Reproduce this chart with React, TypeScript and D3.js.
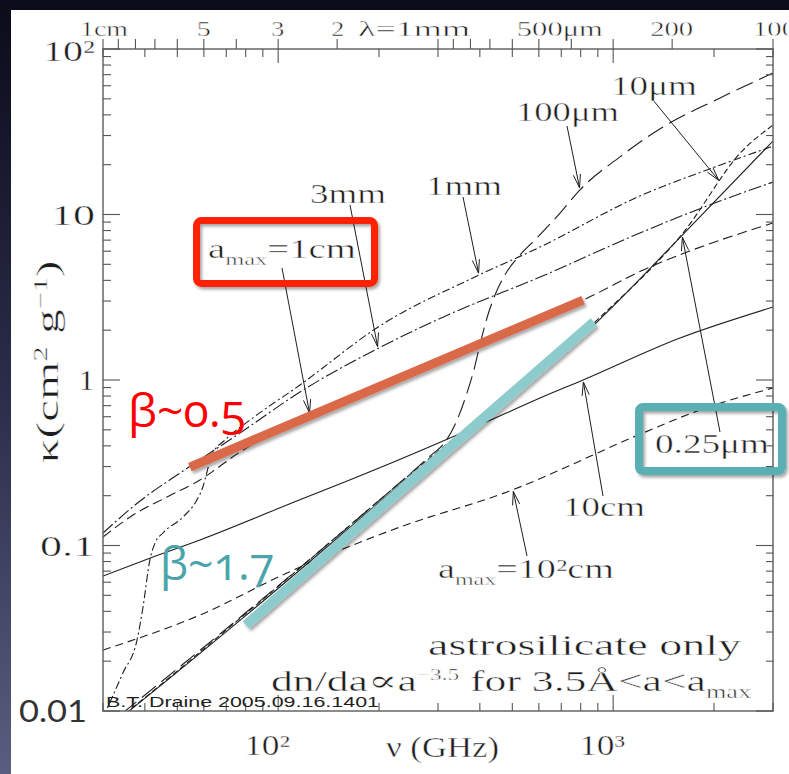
import React from "react";
import * as d3 from "d3";

// Axis domains: frequency in GHz, mass absorption coefficient in cm² g⁻¹
const nuRange: [number, number] = [30, 3000];
const kappaRange: [number, number] = [0.01, 100];

// κ(ν) for astrosilicate, dn/da ∝ a^-3.5, one series per a_max  ([ν GHz, κ cm² g⁻¹])
const amax025um: [number, number][] = [
  [30, 0.0075], [35.9, 0.01], [78.5, 0.0365], [265, 0.294], [895, 2.24], [1696, 8.4], [3000, 27.8],
];
const amax10um: [number, number][] = [
  [30, 0.0076], [35.9, 0.0101], [78.5, 0.0375], [265, 0.302], [895, 2.3], [1616, 7.73], [2441, 24.5], [3000, 34.7],
];
const amax100um: [number, number][] = [
  [30, 0.0078], [78.5, 0.038], [205.5, 0.196], [284, 0.347], [315, 0.422], [342, 0.573], [366, 0.834],
  [384, 1.149], [400, 1.627], [420, 2.37], [444, 3.26], [475, 4.31], [527, 5.69], [592, 7.21],
  [694, 10.2], [796, 14.1], [1048, 22.3], [1408, 33.8], [2084, 50.6], [3000, 71.6],
];
const amax1mm: [number, number][] = [
  [30, 0.00907], [31.5, 0.01134], [34.4, 0.01697], [37.9, 0.02685], [39.5, 0.0425], [41.4, 0.0817],
  [42.9, 0.1035], [45.3, 0.119], [52.0, 0.1487], [57.2, 0.1883], [59.6, 0.2257], [61.3, 0.278],
  [63.4, 0.352], [69.4, 0.434], [82.4, 0.573], [116.2, 0.933], [201, 2.12], [392, 4.25],
  [605, 6.36], [1202, 12.94], [1905, 18.6], [3000, 25.9],
];
const amax3mm: [number, number][] = [
  [30, 0.119], [38.7, 0.1857], [52.0, 0.282], [76.9, 0.478], [116.2, 0.846], [197, 1.539],
  [326, 2.505], [605, 4.19], [1202, 7.73], [2084, 12.07], [3000, 15.7],
];
const amax1cm: [number, number][] = [
  [30, 0.1125], [36.9, 0.1528], [46.6, 0.1964], [58.4, 0.2487], [76.9, 0.367], [124.4, 0.614],
  [231, 1.057], [459, 1.896], [813, 3.04], [1288, 4.82], [1661, 5.93], [3000, 8.88],
];
const amax10cm: [number, number][] = [
  [30, 0.0654], [42.3, 0.0852], [58.4, 0.108], [106.2, 0.1757], [184, 0.274], [400, 0.535],
  [605, 0.778], [813, 1.0], [1583, 1.794], [3000, 2.76],
];
const amax1m: [number, number][] = [
  [30, 0.02336], [58.4, 0.038], [106.2, 0.0682], [231, 0.1293], [482, 0.2105], [1227, 0.478],
  [1816, 0.659], [3000, 0.895],
];

const sizeLabels = ["0.25μm", "10μm", "100μm", "1mm", "3mm", "1cm", "10cm", "10²cm"];
// frequency (GHz) where each size label's pointer meets its curve
const pointerNu = [1605, 2084, 796, 397.6, 198.6, 124.4, 813, 502];

// Power-law guide segments drawn over the curves
const shallowGuide: [number, number][] = [[54.5, 0.298], [813, 3.04]];
const steepGuide: [number, number][] = [[80.1, 0.0331], [876, 2.24]];
const shallowGuideLabel = "β~0.5";
const steepGuideLabel = "β~1.7";

// Wavelength axis along the top (mm)
const lambdaTicksMm = [10, 9, 8, 7, 6, 5, 4, 3, 2, 1, 0.9, 0.8, 0.7, 0.6, 0.5, 0.4, 0.3, 0.2, 0.1];
const lambdaLabelMm = [10, 5, 3, 2, 1, 0.5, 0.2, 0.1];
const lambdaLabelText = ["1cm", "5", "3", "2", "λ=1mm", "500μm", "200", "100"];

const yTickValues = [0.01, 0.1, 1, 10, 100];
const yTickText = ["0.01", "0.1", "1", "10", "10²"];
const xTickValues = [100, 1000];
const xTickText = ["10²", "10³"];

const SERIF = "'Liberation Serif', 'DejaVu Serif', serif";
const SANS = "'Open Sans', Lato, 'Liberation Sans', sans-serif";
const INK = "#1e1e1e";

// thin the stretched serif glyphs a little so strokes stay light
const thin = { stroke: "#ffffff", strokeWidth: 0.45 };

const L = 103, R = 773, T = 49, B = 711;

type Pt = [number, number];

function kappaAt(series: Pt[], nu: number): number {
  const ln = Math.log10(nu);
  for (let i = 0; i < series.length - 1; i++) {
    const a = series[i], b = series[i + 1];
    if (nu >= a[0] && nu <= b[0]) {
      const f = (ln - Math.log10(a[0])) / (Math.log10(b[0]) - Math.log10(a[0]));
      return Math.pow(10, Math.log10(a[1]) + f * (Math.log10(b[1]) - Math.log10(a[1])));
    }
  }
  return series[series.length - 1][1];
}

function Arrow({ x1, y1, x2, y2 }: { x1: number; y1: number; x2: number; y2: number }) {
  const ang = Math.atan2(y2 - y1, x2 - x1);
  const len = 14, spread = 0.26;
  const p1 = [x2 - len * Math.cos(ang - spread), y2 - len * Math.sin(ang - spread)];
  const p2 = [x2 - len * Math.cos(ang + spread), y2 - len * Math.sin(ang + spread)];
  return (
    <g stroke={INK} strokeWidth={1} fill="none">
      <line x1={x1} y1={y1} x2={x2} y2={y2} />
      <path d={`M${p1[0]},${p1[1]}L${x2},${y2}L${p2[0]},${p2[1]}`} />
    </g>
  );
}

export default function App() {
  const x = d3.scaleLog().domain(nuRange).range([L, R]);
  const y = d3.scaleLog().domain(kappaRange).range([B, T]);
  const line = d3
    .line<Pt>()
    .x((d) => x(d[0]))
    .y((d) => y(d[1]))
    .curve(d3.curveMonotoneX);

  const series: Pt[][] = [amax025um, amax10um, amax100um, amax1mm, amax3mm, amax1cm, amax10cm, amax1m];
  const dashes = [undefined, "6 3", "18 7", "8 3 2 3", "13 3 2 3", "10 5", undefined, "8 5"];

  const isDecade = (v: number) => Math.abs(Math.log10(v) - Math.round(Math.log10(v))) < 1e-6;
  const nuTicks = x.ticks();
  const kTicks = y.ticks();

  // label placement for each size annotation: text box and where the pointer starts
  const labelLayout = [
    { x: 655, y: 453, w: 114, from: [720, 432] },
    { x: 611, y: 95, w: 86, from: [653, 100] },
    { x: 516, y: 121, w: 103, from: [567, 126] },
    { x: 426, y: 195, w: 76, from: [463, 197] },
    { x: 310, y: 203, w: 76, from: [350, 205] },
    { x: 208, y: 258, w: 148, from: [282, 268] },
    { x: 563, y: 516, w: 82, from: [603, 496] },
    { x: 438, y: 578, w: 176, from: [527, 556] },
  ];
  const amaxPrefixed = [5, 7];

  const lambdaShift = [-23, -7, -7, -6, -80, -22, -22, -20];
  const lambdaWidth = [48, 14, 13, 13, 112, 86, 43, 43];

  return (
    <svg
      width={789}
      height={774}
      viewBox="0 0 789 774"
      style={{ position: "absolute", left: 0, top: 0, display: "block" }}
    >
      <defs>
        <linearGradient id="bg" x1="0" y1="0" x2="0" y2="1">
          <stop offset="0" stopColor="#0b0b1a" />
          <stop offset="0.5" stopColor="#2b2c49" />
          <stop offset="1" stopColor="#5a5d7f" />
        </linearGradient>
        <clipPath id="plot">
          <rect x={L} y={T} width={R - L} height={B - T} />
        </clipPath>
        <filter id="shadow" x="-10%" y="-10%" width="130%" height="140%">
          <feDropShadow dx="2" dy="2.5" stdDeviation="1.6" floodColor="#000" floodOpacity="0.35" />
        </filter>
      </defs>

      <rect x={0} y={0} width={789} height={774} fill="url(#bg)" />
      <rect x={11} y={10} width={778} height={764} fill="#ffffff" />

      {/* curves */}
      <g clipPath="url(#plot)" fill="none" stroke={INK} strokeWidth={1.1}>
        {series.map((s, i) => (
          <path key={i} d={line(s) || ""} strokeDasharray={dashes[i]} />
        ))}
      </g>

      {/* frame */}
      <rect x={L} y={T} width={R - L} height={B - T} fill="none" stroke="#666" strokeWidth={1.5} />

      {/* frequency ticks, bottom (up) and top (down) */}
      <g stroke="#555" strokeWidth={1.1}>
        {nuTicks.map((v, i) => {
          const px = x(v);
          const major = isDecade(v);
          return (
            <g key={i}>
              <line x1={px} x2={px} y1={B} y2={B - (major ? 16 : 8)} />
              <line x1={px} x2={px} y1={T} y2={T + (major ? 14 : 8)} />
            </g>
          );
        })}
        {lambdaTicksMm.map((lm, i) => {
          const px = x(300 / lm);
          return <line key={"l" + i} x1={px} x2={px} y1={T} y2={T - 10} />;
        })}
        {kTicks.map((v, i) => {
          const py = y(v);
          const major = isDecade(v);
          return (
            <g key={"k" + i}>
              <line x1={L} x2={L + (major ? 17 : 8)} y1={py} y2={py} />
              <line x1={R} x2={R - (major ? 17 : 7)} y1={py} y2={py} />
            </g>
          );
        })}
      </g>

      {/* top wavelength labels */}
      <g fontFamily={SERIF} fontSize={22} fill={INK} {...thin}>
        {lambdaLabelMm.map((lm, i) => (
          <text
            key={i}
            x={x(300 / lm) + lambdaShift[i]}
            y={36}
            textLength={lambdaWidth[i]}
            lengthAdjust="spacingAndGlyphs"
          >
            {lambdaLabelText[i]}
          </text>
        ))}
      </g>

      {/* y tick labels */}
      <g fontFamily={SERIF} fontSize={30} fill={INK} textAnchor="end">
        {yTickValues.map((v, i) =>
          i === 0 ? (
            <text key={i} x={87} y={y(v) + 11} fontFamily="Lato, 'Open Sans', sans-serif" fontSize={31}
              fill="#333" textLength={68} lengthAdjust="spacingAndGlyphs">
              {yTickText[i]}
            </text>
          ) : (
            <text key={i} x={95} y={y(v) + (i === 4 ? 12 : 10)} {...thin}
              textLength={[0, 55, 17, 44, 52][i]} lengthAdjust="spacingAndGlyphs">
              {yTickText[i]}
            </text>
          )
        )}
      </g>

      {/* x tick labels */}
      <g fontFamily={SERIF} fontSize={29} fill={INK} {...thin}>
        {xTickValues.map((v, i) => (
          <text key={i} x={x(v) - 34} y={755} textLength={46} lengthAdjust="spacingAndGlyphs">
            {xTickText[i]}
          </text>
        ))}
      </g>

      {/* axis titles */}
      <text x={386} y={757} fontFamily={SERIF} fontSize={30} fill={INK} textLength={113}
        lengthAdjust="spacingAndGlyphs" {...thin}>
        ν (GHz)
      </text>
      <text transform="translate(58,362) rotate(-90)" textAnchor="middle" fontFamily={SERIF}
        fontSize={31} fill={INK} textLength={203} lengthAdjust="spacingAndGlyphs" {...thin}>
        κ(cm<tspan dy={-11} fontSize={19}>2</tspan><tspan dy={11}> g</tspan>
        <tspan dy={-11} fontSize={19}>−1</tspan><tspan dy={11}>)</tspan>
      </text>

      {/* size annotations with pointers */}
      <g fontFamily={SERIF} fontSize={27} fill={INK}>
        {sizeLabels.map((lab, i) => {
          const lay = labelLayout[i];
          const tx = x(pointerNu[i]);
          const ty = y(kappaAt(series[i], pointerNu[i]));
          const dx = lay.from[0] - tx, dy = lay.from[1] - ty;
          const d = Math.hypot(dx, dy);
          const tipX = tx + (2 * dx) / d, tipY = ty + (2 * dy) / d;
          return (
            <g key={i}>
              <Arrow x1={lay.from[0]} y1={lay.from[1]} x2={tipX} y2={tipY} />
              <text x={lay.x} y={lay.y} textLength={lay.w} lengthAdjust="spacingAndGlyphs" {...thin}>
                {amaxPrefixed.includes(i) ? (
                  <>
                    a<tspan dy={7} fontSize={17}>max</tspan>
                    <tspan dy={-7}>={lab}</tspan>
                  </>
                ) : (
                  lab
                )}
              </text>
            </g>
          );
        })}
      </g>

      {/* caption */}
      <text x={428} y={655} fontFamily={SERIF} fontSize={30} fill={INK} textLength={313}
        lengthAdjust="spacingAndGlyphs" {...thin}>
        astrosilicate only
      </text>
      <text x={271} y={691} fontFamily={SERIF} fontSize={30} fill={INK} textLength={480}
        lengthAdjust="spacingAndGlyphs" {...thin}>
        dn/da∝a<tspan dy={-11} fontSize={16}>−3.5</tspan>
        <tspan dy={11}> for 3.5Å&lt;a&lt;a</tspan>
        <tspan dy={7} fontSize={18}>max</tspan>
      </text>
      <text x={106} y={707} fontFamily="'Liberation Sans', sans-serif" fontSize={14} fill={INK}
        textLength={273} lengthAdjust="spacingAndGlyphs">
        B.T. Draine 2005.09.16.1401
      </text>

      {/* power-law guides */}
      <g filter="url(#shadow)" strokeLinecap="butt">
        <line x1={x(shallowGuide[0][0])} y1={y(shallowGuide[0][1])} x2={x(shallowGuide[1][0])}
          y2={y(shallowGuide[1][1])} stroke="#d9694a" strokeWidth={9} />
        <line x1={x(steepGuide[0][0])} y1={y(steepGuide[0][1])} x2={x(steepGuide[1][0])}
          y2={y(steepGuide[1][1])} stroke="#8ecbcd" strokeWidth={10} />
      </g>

      {/* highlight boxes */}
      <g filter="url(#shadow)" fill="none">
        <rect x={196.5} y={220.5} width={178} height={63} rx={5} stroke="#ff2400" strokeWidth={7} />
        <rect x={639} y={407} width={143} height={64} rx={4} stroke="#5aafb5" strokeWidth={8} />
      </g>

      <text x={128} y={427} fontFamily={SANS} fontSize={46} fill="#fe0000" textLength={118}
        lengthAdjust="spacingAndGlyphs"
        style={{ fontVariantNumeric: "oldstyle-nums", fontFeatureSettings: "'onum' 1" }}>
        {shallowGuideLabel}
      </text>
      <text x={160} y={580} fontFamily={SANS} fontSize={46} fill="#4aa5aa" textLength={114}
        lengthAdjust="spacingAndGlyphs"
        style={{ fontVariantNumeric: "oldstyle-nums", fontFeatureSettings: "'onum' 1" }}>
        {steepGuideLabel}
      </text>
    </svg>
  );
}
